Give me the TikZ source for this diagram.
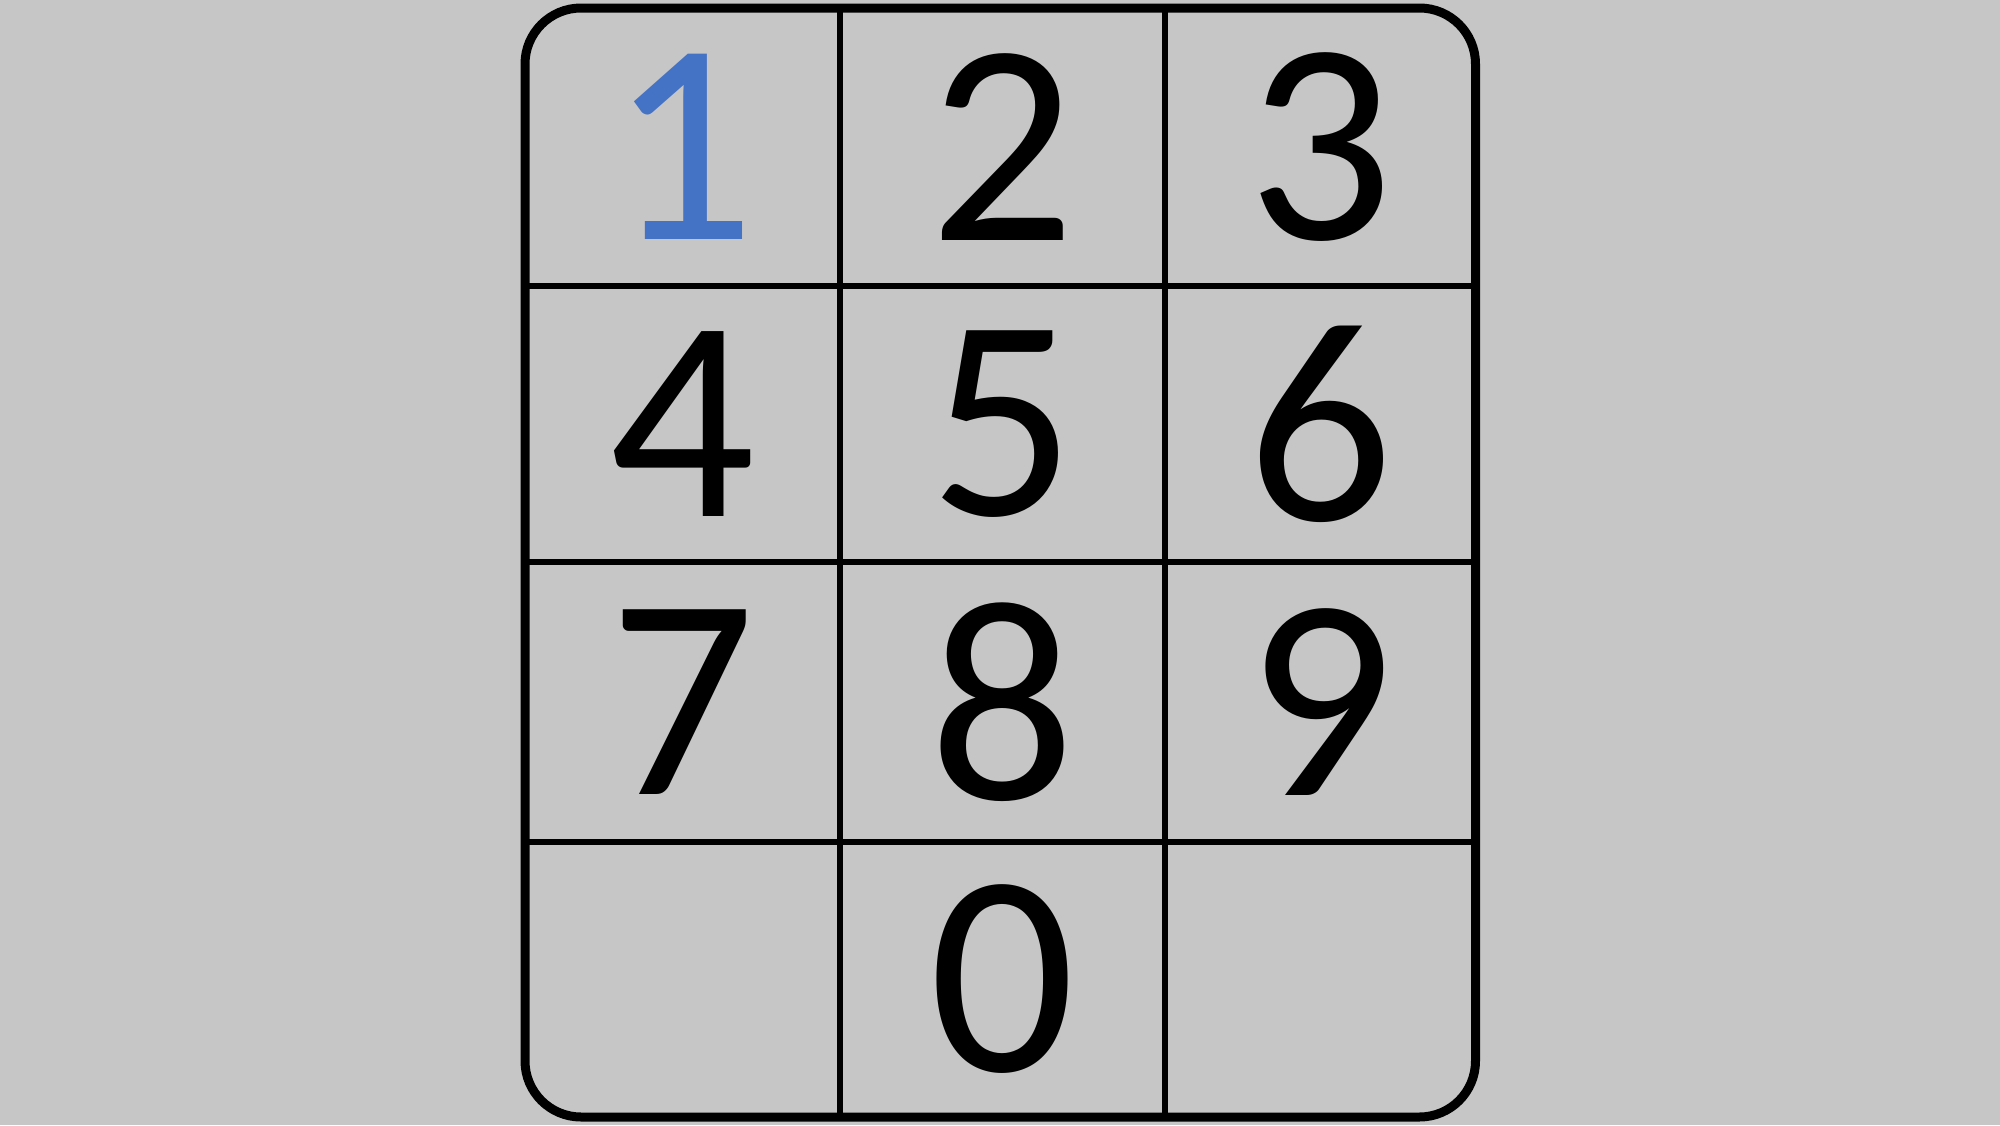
\documentclass[tikz,border=0pt]{standalone}
\usepackage{fontspec}
\setmainfont{Carlito}
\definecolor{bg}{HTML}{C6C6C6}
\definecolor{oneblue}{HTML}{4472C4}
\begin{document}
\begin{tikzpicture}[x=1pt,y=-1pt,
  grid/.style={line width=6pt, black},
  frame/.style={line width=9pt, black, rounded corners=56pt},
  digit/.style={inner sep=0pt, font=\fontsize{288}{300}\selectfont, anchor=center}]
\fill[bg] (0,0) rectangle (2000,1125);
\useasboundingbox (0,0) rectangle (2000,1125);
% grid coordinates
\coordinate (c0) at (525,0);
\coordinate (c1) at (840,0);
\coordinate (c2) at (1164.7,0);
\coordinate (c3) at (1475.5,0);
\coordinate (r0) at (0,8);
\coordinate (r1) at (0,285.5);
\coordinate (r2) at (0,562.3);
\coordinate (r3) at (0,842);
\coordinate (r4) at (0,1117);
% inner lines
\draw[grid] (c1|-r0) -- (c1|-r4);
\draw[grid] (c2|-r0) -- (c2|-r4);
\draw[grid] (c0|-r1) -- (c3|-r1);
\draw[grid] (c0|-r2) -- (c3|-r2);
\draw[grid] (c0|-r3) -- (c3|-r3);
% frame
\draw[frame] (c0|-r0) rectangle (c3|-r4);
% digits
\node[digit, text=oneblue] (d1) at (682.5,146.75) {1};
\node[digit] (d2) at (1002.3,146.75) {2};
\node[digit] (d3) at (1320.1,146.75) {3};
\node[digit] (d4) at (682.5,423.9) {4};
\node[digit] (d5) at (1002.3,423.9) {5};
\node[digit] (d6) at (1320.1,423.9) {6};
\node[digit] (d7) at (682.5,702.1) {7};
\node[digit] (d8) at (1002.3,702.1) {8};
\node[digit] (d9) at (1320.1,702.1) {9};
\node[digit] (d0) at (1002.3,979.5) {0};
\end{tikzpicture}
\end{document}
